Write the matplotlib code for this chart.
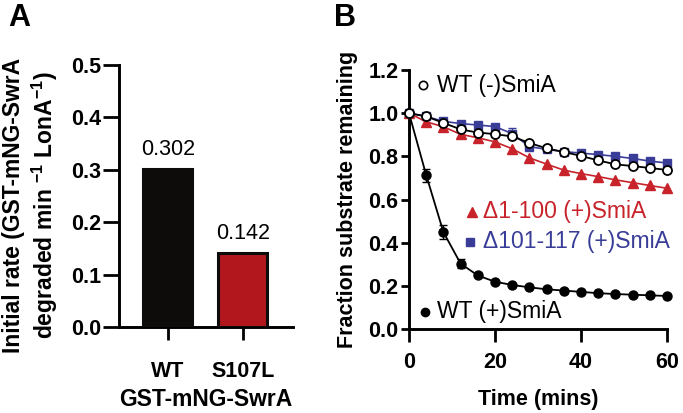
import numpy as np
import matplotlib
matplotlib.use("Agg")
import matplotlib.pyplot as plt

plt.rcParams['font.family'] = ['Liberation Sans', 'DejaVu Sans']
plt.rcParams['mathtext.fontset'] = 'custom'
plt.rcParams['mathtext.rm'] = 'Liberation Sans:bold'
plt.rcParams['mathtext.default'] = 'rm'

# Panel A data
strains = ['WT', 'S107L']
rates = [0.302, 0.142]
bar_colors = ['#0e0c0a', '#b2171d']

# Panel B data (time course)
time = [0, 4, 8, 12, 16, 20, 24, 28, 32, 36, 40, 44, 48, 52, 56, 60]
wt_minus = [1.0, 0.985, 0.955, 0.925, 0.91, 0.903, 0.892, 0.862, 0.837, 0.82, 0.802, 0.781, 0.763, 0.755, 0.746, 0.737]
wt_plus = [1.0, 0.713, 0.449, 0.303, 0.248, 0.219, 0.204, 0.193, 0.184, 0.178, 0.172, 0.166, 0.162, 0.159, 0.156, 0.153]
d1_100 = [1.0, 0.96, 0.937, 0.902, 0.886, 0.867, 0.835, 0.793, 0.764, 0.736, 0.72, 0.706, 0.691, 0.678, 0.665, 0.652]
d101_117 = [1.0, 0.985, 0.962, 0.952, 0.945, 0.938, 0.905, 0.845, 0.832, 0.822, 0.815, 0.808, 0.8, 0.79, 0.778, 0.769]
wt_plus_err = [0, 0.03, 0.033, 0.02, 0, 0, 0, 0, 0, 0, 0, 0, 0, 0, 0, 0]
d101_117_err = [0, 0, 0, 0, 0, 0, 0.025, 0, 0, 0, 0, 0, 0, 0, 0, 0]
wt_minus_err = [0, 0, 0, 0, 0, 0, 0.012, 0, 0, 0, 0, 0, 0, 0, 0, 0]

red = '#c8232b'
blue = '#3a3d98'

W, H = 683, 413
fig = plt.figure(figsize=(W / 100, H / 100), dpi=100)

# ---- Panel A ----
ax1 = fig.add_axes([119 / W, 1 - 327 / H, (293 - 119) / W, (327 - 65) / H])
x = np.arange(len(strains))
ax1.bar(x, rates, width=0.65, color=bar_colors, edgecolor='#0e0c0a', linewidth=2.2, zorder=3)
for xi, r in zip(x, rates):
    ax1.text(xi, r + 0.017, f'{r:.3f}', ha='center', va='bottom', fontsize=15.5)
ax1.set_xlim(-0.65, 1.67)
ax1.set_ylim(0, 0.5)
ax1.set_yticks(np.arange(0, 0.51, 0.1))
ax1.set_yticklabels([f'{v:.1f}' for v in np.arange(0, 0.51, 0.1)])
ax1.set_xticks(x)
ax1.set_xticklabels(strains)
ax1.tick_params(axis='y', length=11.5, width=2, pad=1.5, labelsize=15.5)
ax1.tick_params(axis='x', length=9.5, width=2, pad=15, labelsize=15.5)
for lab in ax1.get_xticklabels() + ax1.get_yticklabels():
    lab.set_fontweight('bold')
for s in ['top', 'right']:
    ax1.spines[s].set_visible(False)
for s in ['left', 'bottom']:
    ax1.spines[s].set_linewidth(2.1)
ax1.set_xlabel('GST-mNG-SwrA', fontsize=16.5, fontweight='bold')
ax1.xaxis.set_label_coords(0.5, -(400 - 327) / 262)
ax1.xaxis.label.set_va('center')
ax1.set_ylabel('Initial rate (GST-mNG-SwrA\ndegraded min $^{-1}$ LonA$^{-1}$)',
               fontsize=16.5, fontweight='bold', linespacing=1.2)
ax1.yaxis.set_label_coords(-(119 - 60) / 174, (327 - 205) / 262)

# ---- Panel B ----
ax2 = fig.add_axes([409 / W, 1 - 329 / H, (667 - 409) / W, (329 - 70) / H])
ax2.errorbar(time, d101_117, yerr=d101_117_err, color=blue, marker='s', markersize=6,
             linewidth=1.2, capsize=3, elinewidth=1, clip_on=False, zorder=3)
ax2.errorbar(time, d1_100, color=red, marker='^', markersize=6.5,
             linewidth=1.2, clip_on=False, zorder=4)
ax2.errorbar(time, wt_plus, yerr=wt_plus_err, color='black', marker='o', markersize=6.5,
             linewidth=1.3, capsize=3, elinewidth=1, clip_on=False, zorder=5)
ax2.errorbar(time, wt_minus, yerr=wt_minus_err, color='black', marker='o', markersize=6.5,
             markerfacecolor='white', markeredgewidth=1.3, linewidth=1.3, capsize=3,
             elinewidth=1, clip_on=False, zorder=6)
ax2.set_xlim(0, 60)
ax2.set_ylim(0, 1.2)
ax2.set_xticks([0, 20, 40, 60])
ax2.set_yticks(np.arange(0, 1.21, 0.2))
ax2.set_yticklabels([f'{v:.1f}' for v in np.arange(0, 1.21, 0.2)])
ax2.tick_params(axis='y', length=6, width=2, pad=1.5, labelsize=15.5)
ax2.tick_params(axis='x', length=9.5, width=2, pad=7, labelsize=15.5)
for lab in ax2.get_xticklabels() + ax2.get_yticklabels():
    lab.set_fontweight('bold')
for s in ['top', 'right']:
    ax2.spines[s].set_visible(False)
for s in ['left', 'bottom']:
    ax2.spines[s].set_linewidth(2.1)
ax2.set_xlabel('Time (mins)', fontsize=15.5, fontweight='bold')
ax2.xaxis.set_label_coords(0.5, -(400 - 329) / 259)
ax2.xaxis.label.set_va('center')
ax2.set_ylabel('Fraction substrate remaining', fontsize=15.5, fontweight='bold')
ax2.yaxis.set_label_coords(-(409 - 358) / 258, 0.5)

# in-plot labels
ax2.plot(3.3, 1.13, marker='o', markersize=6, markerfacecolor='white', markeredgecolor='black',
         markeredgewidth=1.2, linestyle='none')
ax2.text(6.5, 1.13, 'WT (-)SmiA', fontsize=16.5, va='center', ha='left')
ax2.plot(14.6, 0.543, marker='^', markersize=6.5, color=red, linestyle='none')
ax2.text(17.3, 0.543, 'Δ1-100 (+)SmiA', fontsize=16.5, va='center', ha='left', color=red)
ax2.plot(14.3, 0.404, marker='s', markersize=6, color=blue, linestyle='none')
ax2.text(17.3, 0.404, 'Δ101-117 (+)SmiA', fontsize=16.5, va='center', ha='left', color=blue)
ax2.plot(3.7, 0.08, marker='o', markersize=6, color='black', linestyle='none')
ax2.text(6.4, 0.08, 'WT (+)SmiA', fontsize=16.5, va='center', ha='left')

# panel letters
fig.text(8 / W, 1 - 3 / H, 'A', fontsize=22, fontweight='bold', va='top', ha='left')
fig.text(334 / W, 1 - 3 / H, 'B', fontsize=22, fontweight='bold', va='top', ha='left')

fig.savefig('out.png', dpi=100)
